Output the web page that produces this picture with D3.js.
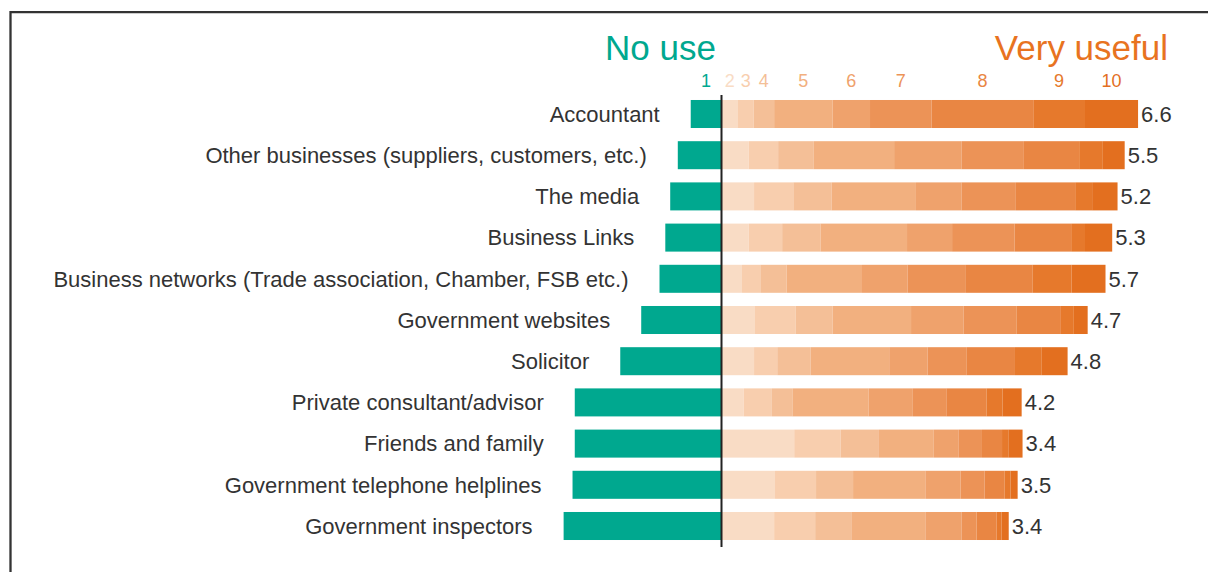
<!DOCTYPE html>
<html>
<head>
<meta charset="utf-8">
<script src="https://cdn.jsdelivr.net/npm/d3@7"></script>
<style>
  html, body { margin: 0; padding: 0; background: #fff; }
  svg { display: block; font-family: "Liberation Sans", Arial, Helvetica, sans-serif; }
</style>
</head>
<body>
<svg id="chart" width="1208" height="572"></svg>
<script>
// Sources of advice, rated 1 (no use) to 10 (very useful); shares of respondents in %
const categories = [
  "Accountant",
  "Other businesses (suppliers, customers, etc.)",
  "The media",
  "Business Links",
  "Business networks (Trade association, Chamber, FSB etc.)",
  "Government websites",
  "Solicitor",
  "Private consultant/advisor",
  "Friends and family",
  "Government telephone helplines",
  "Government inspectors"
];

const scoreLabels = ["1", "2", "3", "4", "5", "6", "7", "8", "9", "10"];

// one array per rating, in category order
const score1  = [6.9, 9.8, 11.5, 12.6, 13.9, 18.0, 22.7, 32.9, 32.9, 33.4, 35.4];
const score2  = [3.7, 6.1, 7.3, 6.1, 4.6, 7.5, 7.3, 5.0, 16.3, 12.0, 11.8];
const score3  = [3.5, 6.6, 8.8, 7.5, 4.1, 9.1, 5.2, 6.3, 10.4, 9.2, 9.2];
const score4  = [4.6, 8.0, 8.6, 8.6, 5.9, 8.3, 7.5, 4.6, 8.6, 8.3, 8.1];
const score5  = [13.1, 18.0, 18.9, 19.4, 16.9, 17.6, 17.6, 17.1, 12.3, 16.2, 16.6];
const score6  = [8.4, 15.1, 10.2, 10.1, 10.2, 11.8, 8.6, 9.9, 5.6, 7.9, 8.1];
const score7  = [13.8, 14.0, 12.2, 14.0, 13.1, 11.9, 8.8, 7.5, 5.2, 5.4, 3.4];
const score8  = [22.8, 12.4, 13.3, 12.7, 14.9, 9.9, 10.8, 9.0, 4.5, 4.5, 4.5];
const score9  = [11.6, 5.3, 3.8, 3.1, 8.8, 2.9, 5.9, 3.6, 1.4, 1.3, 1.1];
const score10 = [11.9, 4.9, 5.7, 6.1, 7.6, 3.1, 5.9, 4.3, 3.2, 1.6, 1.6];

// average rating shown at the end of each bar
const meanScore = [6.6, 5.5, 5.2, 5.3, 5.7, 4.7, 4.8, 4.2, 3.4, 3.5, 3.4];

const positiveSeries = [score2, score3, score4, score5, score6, score7, score8, score9, score10];

const teal = "#00A88F";
const oranges = ["#F9DCC5", "#F8CEAE", "#F4BF97", "#F2B07F", "#EFA26C", "#EC9357", "#E98643", "#E6792C", "#E36F1F"];
const textColor = "#333333";

const svg = d3.select("#chart");

// frame
svg.append("path")
  .attr("d", "M10.5,572 V12.2 H1208")
  .attr("fill", "none")
  .attr("stroke", "#333")
  .attr("stroke-width", 2.3);

const x = d3.scaleLinear().domain([0, 100]).range([721.5, 1167.5]);
const y = d3.scaleBand()
  .domain(categories)
  .range([93.4, 546.6])
  .paddingInner(0.32)
  .paddingOuter(0.16);

// build stacked rows
const rows = categories.map((c, i) => {
  let acc = 0;
  const segs = positiveSeries.map((s, k) => {
    const seg = { k, x0: acc, x1: acc + s[i] };
    acc += s[i];
    return seg;
  });
  return { c, i, neg: score1[i], segs, end: acc };
});

const g = svg.append("g");

// "no use" bars to the left of the axis
g.selectAll("rect.neg")
  .data(rows)
  .join("rect")
  .attr("class", "neg")
  .attr("x", d => x(-d.neg))
  .attr("y", d => y(d.c))
  .attr("width", d => x(0) - x(-d.neg))
  .attr("height", y.bandwidth())
  .attr("fill", teal);

// ratings 2–10 stacked to the right
const rowG = g.selectAll("g.row")
  .data(rows)
  .join("g")
  .attr("class", "row");

rowG.selectAll("rect")
  .data(d => d.segs.map(s => Object.assign({ c: d.c }, s)))
  .join("rect")
  .attr("x", d => x(d.x0))
  .attr("y", d => y(d.c))
  .attr("width", d => x(d.x1) - x(d.x0))
  .attr("height", y.bandwidth())
  .attr("fill", d => oranges[d.k]);

// category labels
g.selectAll("text.cat")
  .data(rows)
  .join("text")
  .attr("class", "cat")
  .attr("x", d => x(-d.neg) - 31)
  .attr("y", d => y(d.c) + y.bandwidth() / 2)
  .attr("dy", "0.35em")
  .attr("text-anchor", "end")
  .attr("font-size", 22)
  .attr("fill", textColor)
  .text(d => d.c);

// average rating labels
g.selectAll("text.mean")
  .data(rows)
  .join("text")
  .attr("class", "mean")
  .attr("x", d => x(d.end) + 3)
  .attr("y", d => y(d.c) + y.bandwidth() / 2)
  .attr("dy", "0.35em")
  .attr("font-size", 22)
  .attr("fill", textColor)
  .text((d, i) => d3.format(".1f")(meanScore[i]));

// zero axis
svg.append("line")
  .attr("x1", x(0)).attr("x2", x(0))
  .attr("y1", 95).attr("y2", 547)
  .attr("stroke", "#222")
  .attr("stroke-width", 2);

// rating key, centred over the first row's segments
const first = rows[0];
const keyPos = [x(-first.neg / 2)].concat(first.segs.map(s => x((s.x0 + s.x1) / 2)));
const keyCol = [teal].concat(oranges);
svg.selectAll("text.key")
  .data(scoreLabels)
  .join("text")
  .attr("class", "key")
  .attr("x", (d, i) => keyPos[i])
  .attr("y", 87)
  .attr("text-anchor", "middle")
  .attr("font-size", 18)
  .attr("fill", (d, i) => keyCol[i])
  .text(d => d);

// end labels
svg.append("text")
  .attr("x", 716).attr("y", 60)
  .attr("text-anchor", "end")
  .attr("font-size", 35)
  .attr("fill", teal)
  .text("No use");

svg.append("text")
  .attr("x", 1168).attr("y", 60)
  .attr("text-anchor", "end")
  .attr("font-size", 35)
  .attr("fill", "#E8731F")
  .text("Very useful");
</script>
</body>
</html>
